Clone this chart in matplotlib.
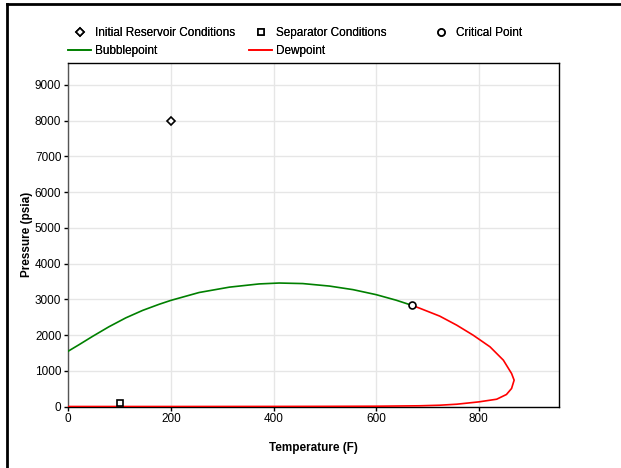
import matplotlib.pyplot as plt
from matplotlib.lines import Line2D

plt.rcParams['font.family'] = ['Liberation Sans', 'DejaVu Sans']

# points
init_t, init_p = [200], [8000]
sep_t, sep_p = [100], [100]
crit_t, crit_p = [670], [2830]

# bubblepoint curve
bub_t = [0, 21, 47, 79, 112, 145, 177, 200, 255, 314, 372, 411, 457, 509, 555, 600, 639, 670]
bub_p = [1550, 1730, 1960, 2230, 2480, 2690, 2860, 2970, 3190, 3340, 3430, 3455, 3440, 3370,
         3270, 3130, 2975, 2830]

# dewpoint curve, from the critical point round the nose and back to 0 F
dew_t = [670, 685, 724, 757, 789, 822, 848, 864, 869, 864, 854, 835, 800, 757, 724, 685,
         600, 500, 400, 300, 200, 100, 0]
dew_p = [2830, 2750, 2529, 2277, 1997, 1670, 1297, 924, 737, 504, 336, 204, 129, 64, 36, 20,
         8, 4, 2, 1, 0, 0, 0]

fig = plt.figure(figsize=(6.21, 4.68), dpi=100)
ax = fig.add_axes([0.110, 0.1314, 0.7906, 0.7346])

ax.plot(bub_t, bub_p, color='green', lw=1.2, zorder=3)
ax.plot(dew_t, dew_p, color='red', lw=1.2, zorder=3)

mk = dict(ls='none', mfc='white', mec='black', mew=1.2, zorder=4)
ax.plot(init_t, init_p, marker='D', ms=4.5, **mk)
ax.plot(sep_t, sep_p, marker='s', ms=5, **mk)
ax.plot(crit_t, crit_p, marker='o', ms=5, **mk)

ax.set_xlim(0, 957)
ax.set_ylim(0, 9620)
ax.set_xticks([0, 200, 400, 600, 800])
ax.set_yticks(range(0, 10000, 1000))
ax.grid(True, color='#e6e6e6', lw=1)
ax.set_axisbelow(True)
ax.tick_params(labelsize=8.5, length=3, width=1, pad=2)
for s in ax.spines.values():
    s.set_linewidth(1)
ax.spines['left'].set_color('#555555')

ax.set_xlabel('Temperature (F)', fontsize=8.5, fontweight='bold', labelpad=12)
ax.set_ylabel('Pressure (psia)', fontsize=8.5, fontweight='bold', labelpad=1)

# legend: three columns placed by hand
h_init = Line2D([], [], marker='D', ms=4.5, **mk)
h_sep = Line2D([], [], marker='s', ms=5, **mk)
h_crit = Line2D([], [], marker='o', ms=5, **mk)
h_bub = Line2D([], [], color='green', lw=1.2)
h_dew = Line2D([], [], color='red', lw=1.2)

cols = [([h_init, h_bub], ['Initial Reservoir Conditions', 'Bubblepoint'], 68),
        ([h_sep, h_dew], ['Separator Conditions', 'Dewpoint'], 249),
        ([h_crit], ['Critical Point'], 429)]
for hs, ls, px in cols:
    leg = fig.legend(hs, ls, loc='upper left', bbox_to_anchor=(px / 621, 1 - 27 / 468),
                     frameon=False, fontsize=8.5, handlelength=1.95, handletextpad=0.35,
                     borderpad=0, borderaxespad=0, labelspacing=0.5)
    fig.add_artist(leg)

# outer frame (only left and top edges show)
fig.add_artist(Line2D([7 / 621, 7 / 621], [0, 1 - 4 / 468], color='black', lw=2,
                      transform=fig.transFigure))
fig.add_artist(Line2D([7 / 621, 1], [1 - 4 / 468, 1 - 4 / 468], color='black', lw=2,
                      transform=fig.transFigure))

fig.savefig('out.png', dpi=100)
